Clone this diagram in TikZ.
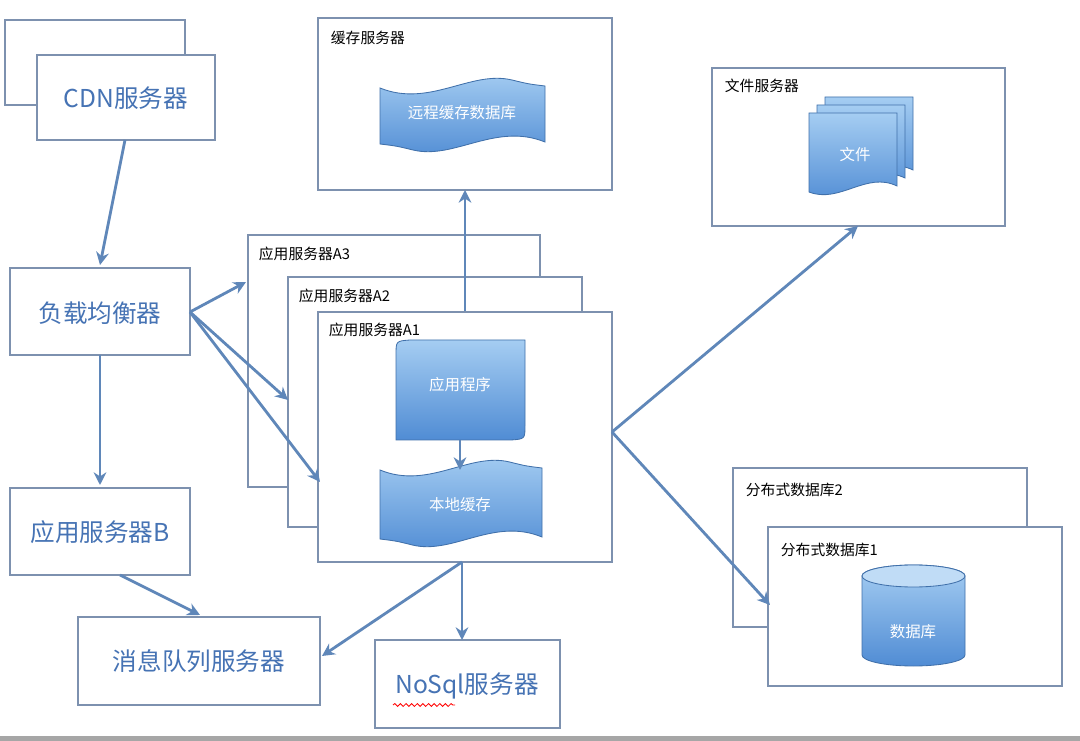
\documentclass[tikz,border=0pt]{standalone}
\usepackage{fontspec}
\setmainfont{Noto Sans CJK SC}
\usetikzlibrary{shapes.geometric,arrows.meta,decorations.pathmorphing}
\definecolor{bd}{RGB}{125,145,175}
\definecolor{ar}{RGB}{95,135,185}
\definecolor{tb}{RGB}{70,115,180}
\definecolor{ftop}{RGB}{165,205,242}
\definecolor{fbot}{RGB}{80,140,212}
\newcommand{\mytape}[4]{% x1 y1 x2 y2
 \path[shade,top color=ftop,bottom color=fbot,draw=fbot!80!black,line width=0.6pt]
  (#1,#2+8) .. controls ({#1+(#3-#1)*0.3},#2+28) and ({#1+(#3-#1)*0.55},#2-10) .. ({#1+(#3-#1)*0.8},#2) .. controls ({#1+(#3-#1)*0.9},#2+4) .. (#3,#2+6)
  -- (#3,#4-8) .. controls ({#3-(#3-#1)*0.3},#4-28) and ({#3-(#3-#1)*0.55},#4+10) .. ({#3-(#3-#1)*0.8},#4) .. controls ({#3-(#3-#1)*0.9},#4-4) .. (#1,#4-6) -- cycle;}
\newcommand{\mydoc}[4]{%
 \path[shade,top color=ftop,bottom color=fbot,draw=fbot!80!black,line width=0.6pt]
  (#1,#2) -- (#3,#2) -- (#3,#4-10) .. controls ({#3-(#3-#1)*0.35},#4-25) and ({#3-(#3-#1)*0.65},#4+8) .. (#1,#4-4) -- cycle;}
\begin{document}
\begin{tikzpicture}[x=0.025cm,y=-0.025cm,
 box/.style={draw=bd,line width=1pt,fill=white},
 big/.style={font=\fontsize{17.5}{20}\selectfont,text=tb},
 sm/.style={font=\fontsize{10.5}{12}\selectfont,anchor=west},
 wt/.style={font=\fontsize{11}{13}\selectfont,text=white},
 arr/.style={draw=ar,line width=2pt,-{Stealth[length=9pt,width=9pt]}}]
\useasboundingbox (0,0) rectangle (1080,741);
\fill[white] (0,0) rectangle (1080,741);
\fill[gray!70] (0,736) rectangle (1080,741);
% CDN
\draw[box] (5,20) rectangle (185,105);
\draw[box] (37,55) rectangle (215,140);
\node[big] (cdn) at (126,98) {CDN服务器};
\coordinate (cdnb) at (125,140);
% cache server
\draw[box] (318,18) rectangle (612,190);
\node[sm] (cachel) at (326,38) {缓存服务器};
\mytape{380}{80}{545}{150}
\node[wt] (remote) at (462,113) {远程缓存数据库};
\coordinate (cacheb) at (465,190);
% file server
\draw[box] (712,68) rectangle (1005,226);
\node[sm] (filel) at (720,86) {文件服务器};
\mydoc{825}{97}{913}{180}
\mydoc{817}{105}{905}{188}
\mydoc{809}{113}{897}{196}
\node[wt] (file) at (855,155) {文件};
\coordinate (fileb) at (858,226);
% load balancer
\draw[box] (10,268) rectangle (190,355);
\node[big] (lb) at (100,313) {负载均衡器};
\coordinate (lbr) at (190,312);
% app B
\draw[box] (10,488) rectangle (190,575);
\node[big] (appb) at (100,532) {应用服务器B};
% app servers
\draw[box] (248,235) rectangle (540,487);
\node[sm] (a3) at (254,254) {应用服务器A3};
\draw[box] (288,277) rectangle (582,527);
\node[sm] (a2) at (294,296) {应用服务器A2};
\draw[arr] (465,312) -- (cacheb);
\draw[box] (318,312) rectangle (612,562);
\node[sm] (a1) at (324,330) {应用服务器A1};
\path[shade,top color=ftop,bottom color=fbot,draw=fbot!80!black,line width=0.6pt]
 (396,355) .. controls (396,341) .. (410,340) -- (525,340) -- (525,425) .. controls (525,439) .. (511,440) -- (396,440) -- cycle;
\node[wt] (prog) at (460,385) {应用程序};
\mytape{380}{462}{542}{545}
\node[wt] (local) at (460,505) {本地缓存};
\draw[arr,line width=1.6pt] (460,440) -- (460,470);
% dist db
\draw[box] (733,468) rectangle (1027,627);
\node[sm] (db2) at (741,490) {分布式数据库2};
\draw[box] (768,527) rectangle (1062,686);
\node[sm] (db1) at (776,550) {分布式数据库1};
\path[shade,top color=ftop,bottom color=fbot,draw=fbot!80!black,line width=0.6pt]
 (862,576) -- (862,655) arc[x radius=51.5,y radius=11,start angle=180,end angle=0] -- (965,576) arc[x radius=51.5,y radius=11,start angle=0,end angle=-180];
\path[fill=ftop!70!white,draw=fbot!80!black,line width=0.6pt] (913.5,576) ellipse[x radius=51.5,y radius=11];
\node[wt] (db) at (913,632) {数据库};
% mq, nosql
\draw[box] (78,617) rectangle (320,705);
\node[big] (mq) at (199,661) {消息队列服务器};
\draw[box] (375,640) rectangle (560,728);
\node[big] (nosql) at (467,686) {NoSql服务器};
\draw[red,line width=0.6pt,decorate,decoration={snake,amplitude=1pt,segment length=4pt}] (393,705) -- (455,705);
% arrows
\draw[arr] (cdnb) -- (100,265);
\draw[arr] (100,355) -- (100,485);
\draw[arr] (lbr) -- (246,282);
\draw[arr] (lbr) -- (288,400);
\draw[arr] (lbr) -- (320,482);
\draw[arr] (120,575) -- (200,615);
\draw[arr] (462,562) -- (322,656);
\draw[arr] (462,562) -- (462,640);
\draw[arr] (612,432) -- (fileb);
\draw[arr] (612,432) -- (770,605);
\end{tikzpicture}
\end{document}
